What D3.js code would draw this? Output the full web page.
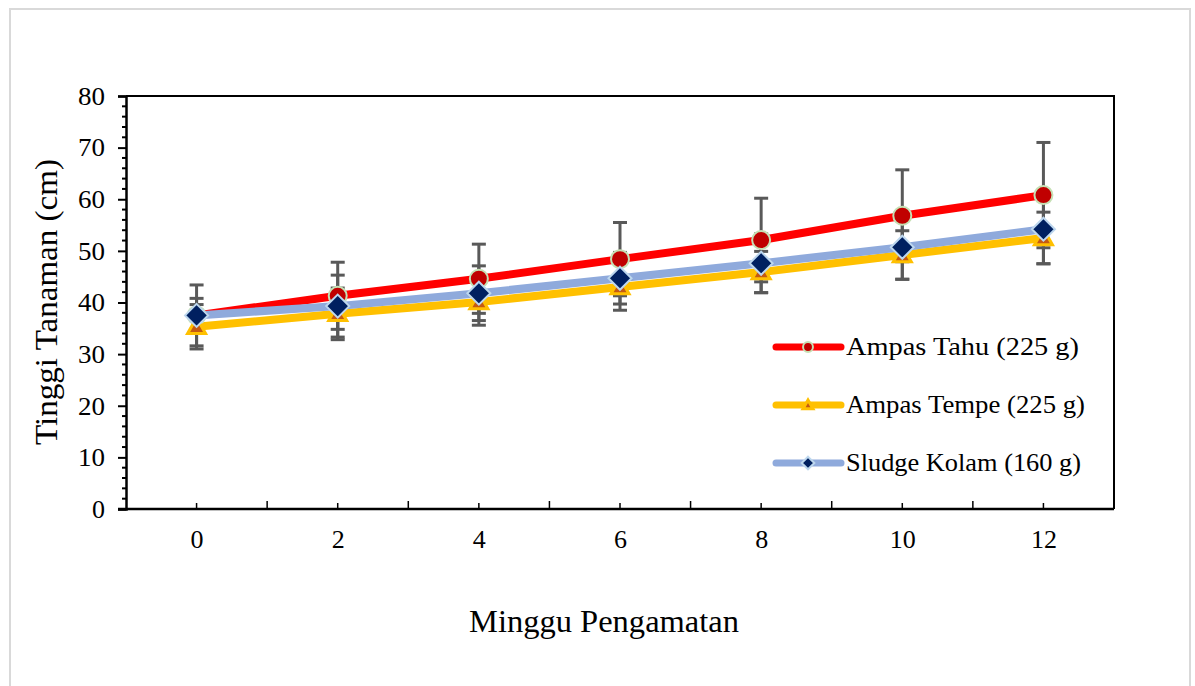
<!DOCTYPE html>
<html><head><meta charset="utf-8">
<script src="https://cdn.jsdelivr.net/npm/d3@7"></script>
<style>
html,body{margin:0;padding:0;background:#fff;}
svg{display:block;}
svg text{font-family:"Liberation Serif",serif !important;fill:#000;}
</style></head>
<body><svg id="c" width="1195" height="686"></svg>
<script>
const weeks = [0, 2, 4, 6, 8, 10, 12];
const seriesNames = ["Ampas Tahu  (225 g)", "Ampas Tempe (225 g)", "Sludge Kolam (160 g)"];
const tahu = [37.5, 41.3, 44.6, 48.4, 52.1, 56.8, 60.8];
const tahuSd = [5.9, 6.5, 6.7, 7.1, 8.1, 8.9, 10.2];
const tempe = [35.3, 37.8, 40.1, 43.0, 45.9, 49.2, 52.5];
const tempeSd = [4.3, 5.0, 4.5, 4.5, 4.0, 4.7, 5.0];
const sludge = [37.5, 39.3, 41.8, 44.7, 47.6, 50.7, 54.2];
const sludgeSd = [3.3, 6.0, 5.3, 5.0, 5.7, 6.2, 6.7];
const yTicks = [0, 10, 20, 30, 40, 50, 60, 70, 80];

const series = [
  {name: seriesNames[0], vals: tahu, sd: tahuSd, line: "#FF0000", fill: "#C00000", stroke: "#C5E0B4", shape: "circle"},
  {name: seriesNames[1], vals: tempe, sd: tempeSd, line: "#FFC000", fill: "#C55A11", stroke: "#FFC000", shape: "triangle"},
  {name: seriesNames[2], vals: sludge, sd: sludgeSd, line: "#8FAADC", fill: "#002060", stroke: "#BDD7EE", shape: "diamond"}
];

const svg = d3.select("#c");
svg.append("rect").attr("x", 10).attr("y", 9).attr("width", 1180).attr("height", 690)
  .attr("fill", "#fff").attr("stroke", "#D9D9D9").attr("stroke-width", 2);

const L = 126, R = 1114, T = 96, B = 509;
const x = d3.scalePoint().domain(weeks).range([L, R]).padding(0.5);
const y = d3.scaleLinear().domain([0, 80]).range([B, T]);
const step = x.step();

svg.append("path").attr("d", `M${L},${T}H${R}V${B}`).attr("fill", "none").attr("stroke", "#000").attr("stroke-width", 2);

// Y axis
const yAx = svg.append("g").attr("transform", `translate(${L},0)`);
yAx.call(d3.axisLeft(y).tickValues(yTicks).tickSize(8).tickPadding(13));
yAx.select(".domain").attr("stroke-width", 2.5);
yAx.selectAll(".tick line").attr("stroke-width", 2);
yAx.selectAll("text").attr("font-size", 25).attr("dy", "0.33em")
  .attr("textLength", d => d === 0 ? 13 : 27).attr("lengthAdjust", "spacingAndGlyphs");
const yMinor = d3.range(0, 81, 2).filter(v => v % 10 !== 0);
yAx.selectAll(".minor").data(yMinor).enter().append("line").attr("class", "minor")
  .attr("x1", -4).attr("x2", 0).attr("y1", d => y(d)).attr("y2", d => y(d))
  .attr("stroke", "#000").attr("stroke-width", 2);

// X axis
const xAx = svg.append("g").attr("transform", `translate(0,${B})`);
xAx.call(d3.axisBottom(x).tickSize(0).tickPadding(21));
xAx.select(".domain").attr("stroke-width", 2.5).attr("d", `M${L-8},0H${R}`);
xAx.selectAll("text").attr("font-size", 26);
xAx.selectAll(".xmin").data(weeks).enter().append("line")
  .attr("x1", d => x(d)).attr("x2", d => x(d)).attr("y1", 0).attr("y2", -6)
  .attr("stroke", "#000").attr("stroke-width", 1.5);
xAx.selectAll(".xmaj").data(weeks.slice(1)).enter().append("line")
  .attr("x1", d => x(d) - step / 2).attr("x2", d => x(d) - step / 2).attr("y1", 0).attr("y2", -8)
  .attr("stroke", "#000").attr("stroke-width", 1.5);

// Error bars
const eb = svg.append("g");
series.forEach(s => {
  s.vals.forEach((v, i) => {
    const cx = x(weeks[i]);
    const g = eb.append("g").attr("stroke", "#595959").attr("stroke-width", 3);
    g.append("line").attr("x1", cx).attr("x2", cx).attr("y1", y(v + s.sd[i])).attr("y2", y(v - s.sd[i]));
    [v + s.sd[i], v - s.sd[i]].forEach(e => {
      g.append("line").attr("x1", cx - 7).attr("x2", cx + 7).attr("y1", y(e)).attr("y2", y(e));
    });
  });
});

// Lines
const line = d3.line().x((d, i) => x(weeks[i])).y(d => y(d));
series.forEach(s => {
  svg.append("path").datum(s.vals).attr("d", line).attr("fill", "none")
    .attr("stroke", s.line).attr("stroke-width", 8).attr("stroke-linejoin", "round");
});

function marker(g, s, cx, cy, scale) {
  if (s.shape === "circle") {
    g.append("circle").attr("cx", cx).attr("cy", cy).attr("r", 9 * scale)
      .attr("fill", s.fill).attr("stroke", s.stroke).attr("stroke-width", 2);
  } else if (s.shape === "triangle") {
    const r = 9 * scale;
    g.append("path").attr("d", `M${cx},${cy - r}L${cx + r},${cy + r * 0.75}L${cx - r},${cy + r * 0.75}Z`)
      .attr("fill", s.fill).attr("stroke", s.stroke).attr("stroke-width", 3);
  } else {
    const r = 11.5 * scale;
    g.append("path").attr("d", `M${cx},${cy - r}L${cx + r},${cy}L${cx},${cy + r}L${cx - r},${cy}Z`)
      .attr("fill", s.fill).attr("stroke", s.stroke).attr("stroke-width", 2);
  }
}
const mk = svg.append("g");
series.forEach(s => {
  s.vals.forEach((v, i) => marker(mk, s, x(weeks[i]), y(v), 1));
});

// Legend
const lg = svg.append("g");
series.forEach((s, i) => {
  const ly = 347 + i * 58;
  lg.append("line").attr("x1", 776).attr("x2", 841).attr("y1", ly).attr("y2", ly)
    .attr("stroke", s.line).attr("stroke-width", 7).attr("stroke-linecap", "round");
  marker(lg, s, 808, ly, 0.55);
  lg.append("text").attr("x", 846).attr("y", ly + 8).attr("font-size", 26)
    .attr("textLength", i === 0 ? 233 : (i === 1 ? 239 : 235)).attr("lengthAdjust", "spacingAndGlyphs")
    .text(s.name);
});

// Axis titles
svg.append("text").attr("transform", `translate(57,302) rotate(-90)`).attr("text-anchor", "middle")
  .attr("font-size", 31).attr("textLength", 286).attr("lengthAdjust", "spacingAndGlyphs")
  .text("Tinggi  Tanaman (cm)");
svg.append("text").attr("x", 604).attr("y", 632).attr("text-anchor", "middle")
  .attr("font-size", 32).attr("textLength", 270).attr("lengthAdjust", "spacingAndGlyphs")
  .text("Minggu Pengamatan");
</script></body></html>
